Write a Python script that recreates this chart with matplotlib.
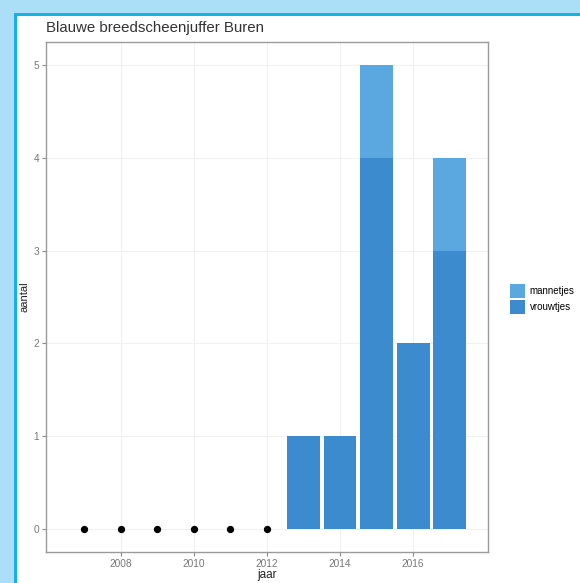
import numpy as np
import matplotlib
matplotlib.use('Agg')
import matplotlib.pyplot as plt
from matplotlib.patches import Rectangle

plt.rcParams['font.family'] = ['Liberation Sans', 'DejaVu Sans']

# data
jaar = [2007, 2008, 2009, 2010, 2011, 2012, 2013, 2014, 2015, 2016, 2017]
vrouwtjes = [0, 0, 0, 0, 0, 0, 1, 1, 4, 2, 3]
mannetjes = [0, 0, 0, 0, 0, 0, 0, 0, 1, 0, 1]
nul_jaren = [2007, 2008, 2009, 2010, 2011, 2012]  # years without sightings (dots at 0)
xticks = [2008, 2010, 2012, 2014, 2016]
yticks = [0, 1, 2, 3, 4, 5]

W, H = 580, 583
fig = plt.figure(figsize=(W / 100, H / 100), dpi=100)
fig.patch.set_facecolor('#abdff7')

# white page with blue edge
fig.patches.append(Rectangle((17 / W, 0), 1, 1 - 15 / H, transform=fig.transFigure,
                             facecolor='white', edgecolor='none', zorder=0))
fig.patches.append(Rectangle((14 / W, 0), 3 / W, 1 - 13 / H, transform=fig.transFigure,
                             facecolor='#18aeec', edgecolor='none', zorder=1))
fig.patches.append(Rectangle((14 / W, 1 - 16 / H), 1, 3 / H, transform=fig.transFigure,
                             facecolor='#18aeec', edgecolor='none', zorder=1))

l, r, t, b = 46, 488, 42, 552
ax = fig.add_axes([l / W, 1 - b / H, (r - l) / W, (b - t) / H])
ax.set_zorder(5)
ax.set_facecolor('white')

c_man = '#5ba8e0'
c_vrouw = '#3d8bcf'
ax.bar(jaar, vrouwtjes, width=0.9, color=c_vrouw, label='vrouwtjes', zorder=2)
ax.bar(jaar, mannetjes, width=0.9, bottom=vrouwtjes, color=c_man, label='mannetjes', zorder=2)
ax.scatter(nul_jaren, np.zeros(len(nul_jaren)), s=18, color='black', zorder=3)

ax.set_xlim(2005.95, 2018.05)
ax.set_ylim(-0.25, 5.25)
ax.set_xticks(xticks)
ax.set_yticks(yticks)
ax.grid(True, color='#f1f1f1', linewidth=0.8, zorder=0)
ax.set_axisbelow(True)
for s in ax.spines.values():
    s.set_color('#9a9a9a')
    s.set_linewidth(1.0)
ax.tick_params(length=3, width=0.8, color='#8a8a8a', labelsize=7.3,
               labelcolor='#777777', pad=2)

fig.text(267 / W, 1 - 575 / H, 'jaar', fontsize=8.5, color='#222222',
         ha='center', va='center')
fig.text(24 / W, 1 - 297 / H, 'aantal', fontsize=8, color='#222222',
         rotation=90, ha='center', va='center')
fig.text(46 / W, 1 - 28 / H, 'Blauwe breedscheenjuffer Buren', fontsize=10.8,
         color='#333333', va='center', ha='left')

h, lab = ax.get_legend_handles_labels()
leg = fig.legend(h[::-1], lab[::-1], loc='center left', bbox_to_anchor=(506 / W, 1 - 299 / H),
                 frameon=False, fontsize=7, handlelength=1.6, handleheight=1.9,
                 handletextpad=0.45, labelspacing=0.2, borderaxespad=0)
leg.set_zorder(6)

fig.savefig('out.png', dpi=100)
